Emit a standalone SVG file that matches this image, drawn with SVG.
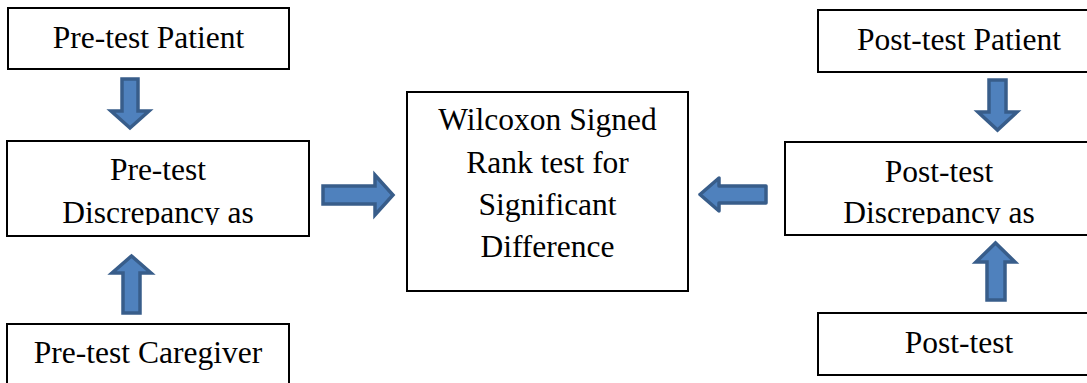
<svg xmlns="http://www.w3.org/2000/svg" width="1087" height="383" viewBox="0 0 1087 383">
<style>
.box{fill:#ffffff;stroke:#000000;stroke-width:2}
.t{font-family:"Liberation Serif","Times New Roman",serif;font-size:31.5px;fill:#000000;text-anchor:middle}
.arr{fill:#4F81BD;stroke:#385D8A;stroke-width:3.5;stroke-linejoin:miter}
.arrR{fill:#4F81BD;stroke:#385D8A;stroke-width:3.5;stroke-linejoin:round}
</style>
<defs>
<clipPath id="clipL"><rect x="8" y="142" width="300" height="83"/></clipPath>
<clipPath id="clipR"><rect x="786" y="143" width="306" height="81"/></clipPath>
</defs>
<rect width="1087" height="383" fill="#ffffff"/>
<g id="pre-patient">
<rect class="box" x="8" y="8" width="281" height="61"/>
<text class="t" x="148.5" y="48">Pre-test Patient</text>
</g>
<g id="pre-discrepancy">
<rect class="box" x="7" y="141" width="302" height="95"/>
<g clip-path="url(#clipL)">
<text class="t" x="158" y="180">Pre-test</text>
<text class="t" x="158" y="223">Discrepancy as</text>
</g>
</g>
<g id="pre-caregiver">
<rect class="box" x="7" y="324" width="282" height="80"/>
<text class="t" x="148" y="363">Pre-test Caregiver</text>
</g>
<g id="wilcoxon">
<rect class="box" x="407" y="92" width="281" height="199"/>
<text class="t" x="547.5" y="130">Wilcoxon Signed</text>
<text class="t" x="547.5" y="172.5">Rank test for</text>
<text class="t" x="547.5" y="215">Significant</text>
<text class="t" x="547.5" y="257">Difference</text>
</g>
<g id="post-patient">
<rect class="box" x="818" y="10" width="282" height="62"/>
<text class="t" x="959" y="50">Post-test Patient</text>
</g>
<g id="post-discrepancy">
<rect class="box" x="785" y="142" width="308" height="93"/>
<g clip-path="url(#clipR)">
<text class="t" x="939" y="182">Post-test</text>
<text class="t" x="939" y="223">Discrepancy as</text>
</g>
</g>
<g id="post-caregiver">
<rect class="box" x="818" y="313" width="282" height="62"/>
<text class="t" x="959" y="353">Post-test</text>
</g>
<g id="connectors">
<path class="arr" d="M122,79 H138 V111 H149 L130,128 L111,111 H122 Z"/>
<path class="arr" d="M123,313 V273 H112 L131.5,256 L151,273 H140 V313 Z"/>
<path class="arr" d="M989,80 H1006 V112 H1017 L997.5,130 L978,112 H989 Z"/>
<path class="arr" d="M987,300 V262 H976 L995.5,243 L1015,262 H1005 V300 Z"/>
<path class="arr" d="M323,186 H375 V175 L393,195 L375,215 V204 H323 Z"/>
<path class="arrR" d="M700,194.5 L719,178 V186 H766 V203 H719 V211 Z"/>
</g>
</svg>
